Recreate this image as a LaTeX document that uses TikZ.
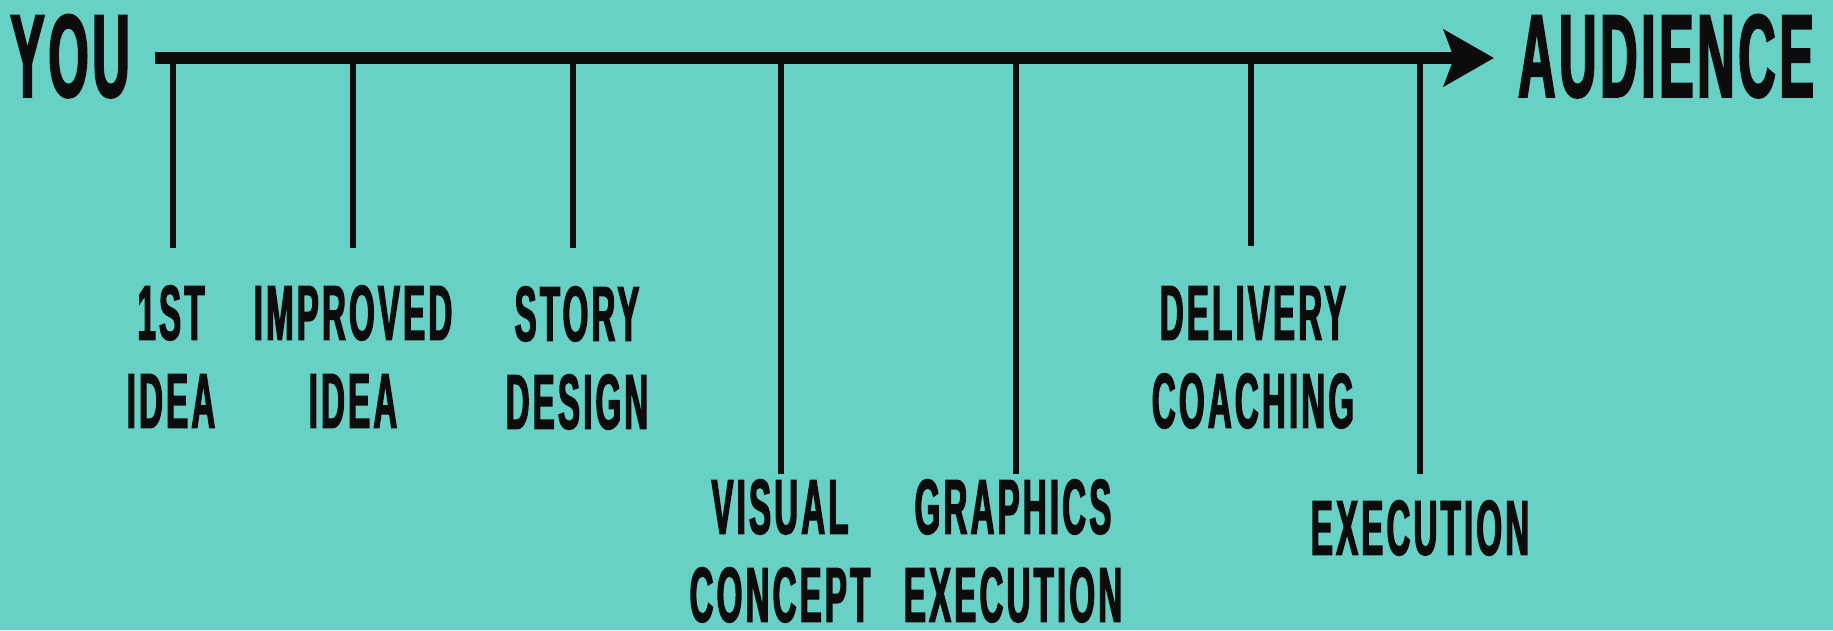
\documentclass[tikz,border=0pt]{standalone}
\usepackage{fontspec}
\usetikzlibrary{arrows.meta}
% condensed heavy sans for the labels
\newfontfamily\endfont{Liberation Sans}[FakeStretch=0.44, FakeBold=1.6, LetterSpace=3]
\newfontfamily\stepfont{Liberation Sans}[FakeStretch=0.425, FakeBold=1.6, LetterSpace=4]
\definecolor{teal}{RGB}{104,209,198}
\definecolor{ink}{RGB}{12,12,12}
\tikzset{
  x=1pt, y=-1pt,
  endlabel/.style={inner sep=0pt, text depth=0pt, anchor=south, text=ink,
    font=\endfont\bfseries\fontsize{118}{118}\selectfont},
  steplabel/.style={inner sep=0pt, text depth=0pt, anchor=south, text=ink, align=center,
    font=\stepfont\bfseries\fontsize{78}{88}\selectfont},
  tickline/.style={draw=ink, line width=6pt},
  axisline/.style={draw=ink, line width=12pt,
    -{Stealth[length=50pt, width=56pt, inset=10pt]}}
}
\begin{document}
\begin{tikzpicture}
  \fill[teal] (0,0) rectangle (1833,630);
  \useasboundingbox (0,0) rectangle (1833,630);

  % end points of the timeline
  \node[endlabel] (you) at (70,97) {YOU};
  \node[endlabel] (aud) at (1666,97) {AUDIENCE};
  \coordinate (axL) at (155,58);
  \coordinate (axR) at (1494,58);

  % ticks: top on the axis, bottom free
  \coordinate (t1) at (173,58);  \coordinate (b1) at (173,248);
  \coordinate (t2) at (353,58);  \coordinate (b2) at (353,248);
  \coordinate (t3) at (573,58);  \coordinate (b3) at (573,248);
  \coordinate (t4) at (781,58);  \coordinate (b4) at (781,474);
  \coordinate (t5) at (1016,58); \coordinate (b5) at (1016,474);
  \coordinate (t6) at (1251,58); \coordinate (b6) at (1251,246);
  \coordinate (t7) at (1420,58); \coordinate (b7) at (1420,474);

  \foreach \i in {1,...,7} { \draw[tickline] (t\i) -- (b\i); }
  \draw[axisline] (axL) -- (axR);

  % stage labels
  \node[steplabel] (l1) at (171,428)  {1ST\\IDEA};
  \node[steplabel] (l2) at (353,428)  {IMPROVED\\IDEA};
  \node[steplabel] (l3) at (577,429)  {STORY\\DESIGN};
  \node[steplabel] (l4) at (780,622)  {VISUAL\\CONCEPT};
  \node[steplabel] (l5) at (1013,622) {GRAPHICS\\EXECUTION};
  \node[steplabel] (l6) at (1253,428) {DELIVERY\\COACHING};
  \node[steplabel] (l7) at (1420,555) {EXECUTION};
\end{tikzpicture}
\end{document}
